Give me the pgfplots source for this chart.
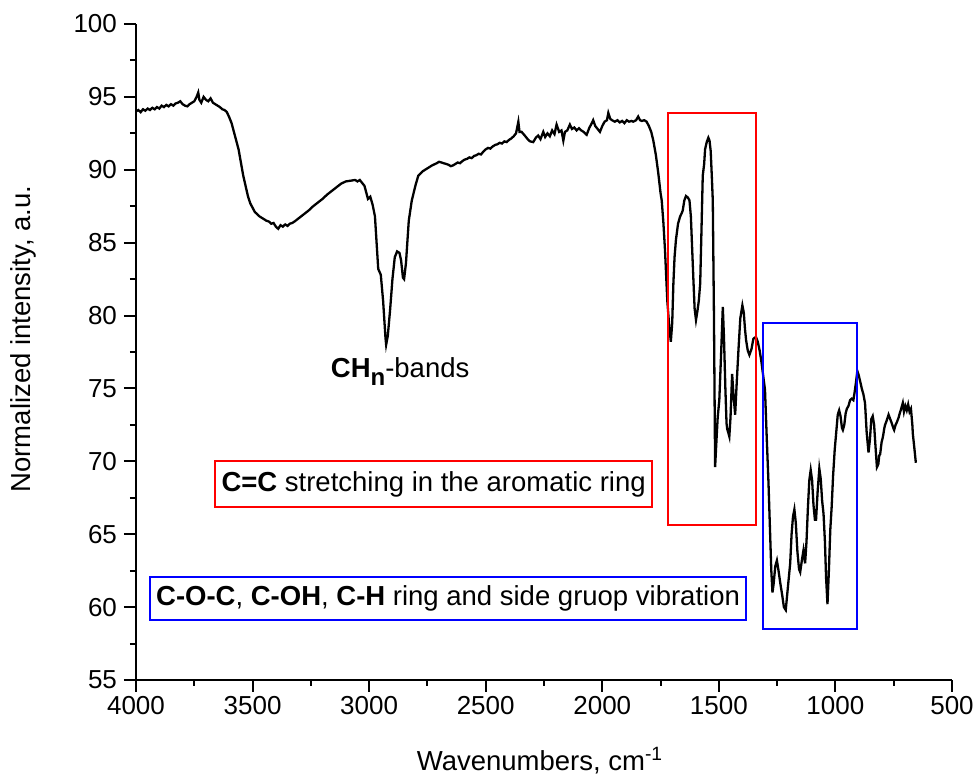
\documentclass[border=0pt]{standalone}
\usepackage{pgfplots}
\pgfplotsset{compat=1.18}
\usepackage{fontspec}
\setmainfont{Liberation Sans}
\begin{document}
\begin{tikzpicture}
\begin{axis}[
  at={(0,0)}, anchor=south west,
  scale only axis, width=408pt, height=328pt,
  xmin=500, xmax=4000, ymin=55, ymax=100,
  x dir=reverse,
  axis lines=left,
  axis line style={-, line width=1pt, black},
  xtick={500,1000,...,4000},
  ytick={55,60,...,100},
  minor x tick num=1, minor y tick num=1,
  tick align=outside,
  major tick length=6pt, minor tick length=3pt,
  tick style={black, line width=1pt},
  /pgf/number format/1000 sep={},
  /pgf/number format/assume math mode=true,
  tick label style={font=\fontsize{13}{15}\selectfont},
  xticklabel style={yshift=1.5pt},
  clip=false,
]
\addplot[black, line width=1.15pt] coordinates {
(4000,94.0)(3990,94.1)(3980,93.95)(3970,94.15)(3960,94.05)(3950,94.2)(3940,94.1)(3930,94.25)(3920,94.15)(3910,94.3)
(3900,94.2)(3890,94.4)(3880,94.3)(3870,94.45)(3860,94.35)(3850,94.5)(3840,94.4)(3830,94.55)(3820,94.6)(3810,94.7)
(3800,94.5)(3790,94.4)(3780,94.35)(3770,94.5)(3760,94.6)(3750,94.7)(3740,95.0)(3733,95.3)(3728,94.8)(3720,94.6)
(3710,95.0)(3700,94.8)(3690,94.7)(3680,94.9)(3670,94.6)(3660,94.5)(3650,94.4)(3640,94.3)(3630,94.15)(3620,94.1)
(3610,93.95)(3600,93.6)(3590,93.2)(3580,92.6)(3570,92.0)(3560,91.4)(3550,90.5)(3540,89.6)(3530,88.9)(3520,88.2)
(3510,87.7)(3500,87.4)(3490,87.1)(3480,86.95)(3470,86.8)(3460,86.7)(3450,86.6)(3440,86.5)(3430,86.45)(3420,86.3)
(3410,86.35)(3400,86.1)(3390,85.95)(3380,86.2)(3370,86.1)(3360,86.25)(3350,86.15)(3340,86.3)(3330,86.35)(3320,86.45)
(3300,86.7)(3280,86.95)(3260,87.2)(3240,87.5)(3220,87.75)(3200,88.0)(3180,88.3)(3160,88.55)(3140,88.8)(3120,89.05)
(3100,89.2)(3080,89.25)(3060,89.3)(3050,89.2)(3040,89.3)(3030,89.1)(3020,88.9)(3010,88.3)(3005,88.0)(2995,88.15)
(2985,87.6)(2975,86.8)(2968,85.0)(2961,83.2)(2950,82.8)(2940,81.0)(2930,78.5)(2927,78.0)(2920,78.6)(2910,80.4)
(2900,82.5)(2890,84.0)(2880,84.4)(2870,84.3)(2863,83.8)(2855,82.6)(2850,82.5)(2842,83.6)(2830,86.5)(2817,87.9)
(2800,89.0)(2789,89.6)(2770,89.9)(2750,90.1)(2730,90.3)(2710,90.45)(2700,90.55)(2690,90.5)(2680,90.45)(2670,90.4)
(2660,90.35)(2650,90.25)(2640,90.3)(2630,90.4)(2620,90.5)(2610,90.45)(2600,90.6)(2590,90.7)(2580,90.75)(2570,90.85)
(2560,90.8)(2550,90.95)(2540,91.0)(2530,91.1)(2520,91.05)(2510,91.25)(2500,91.4)(2490,91.5)(2480,91.45)(2470,91.6)
(2460,91.7)(2450,91.75)(2440,91.85)(2430,91.8)(2420,91.95)(2410,91.9)(2400,92.05)(2390,92.15)(2380,92.3)(2370,92.5)
(2360,93.3)(2355,92.6)(2346,92.6)(2330,92.3)(2320,92.1)(2310,91.95)(2296,91.9)(2285,92.2)(2275,92.35)(2265,92.1)
(2253,92.6)(2245,92.25)(2235,92.5)(2225,92.3)(2215,92.7)(2205,92.45)(2196,93.1)(2185,92.6)(2175,92.7)(2167,92.0)
(2160,92.6)(2150,92.7)(2139,93.1)(2130,92.8)(2120,92.9)(2110,92.7)(2100,92.85)(2090,92.7)(2080,92.6)(2067,92.4)
(2055,92.9)(2048,93.1)(2039,93.4)(2030,93.0)(2020,92.8)(2010,92.6)(2000,93.0)(1990,93.3)(1980,93.4)(1974,93.9)
(1966,93.5)(1958,93.4)(1946,93.3)(1935,93.4)(1925,93.25)(1915,93.35)(1905,93.2)(1895,93.4)(1885,93.3)(1875,93.35)
(1867,93.3)(1855,93.4)(1846,93.65)(1838,93.4)(1830,93.35)(1820,93.4)(1810,93.3)(1800,93.0)(1790,92.6)(1781,92.0)
(1770,91.0)(1760,89.8)(1750,88.4)(1745,87.9)(1738,86.4)(1731,84.5)(1721,81.0)(1713,79.3)(1706,78.2)(1700,79.5)
(1695,82.2)(1690,84.0)(1684,85.2)(1675,86.3)(1666,86.8)(1660,87.0)(1655,87.2)(1648,87.9)(1641,88.2)(1633,88.1)
(1626,87.9)(1620,86.8)(1616,85.2)(1610,82.8)(1604,80.5)(1598,79.7)(1592,80.3)(1586,81.0)(1580,82.2)(1575,85.5)
(1569,89.6)(1563,90.4)(1559,91.4)(1552,91.9)(1545,92.2)(1540,92.0)(1535,91.3)(1530,89.5)(1526,87.9)(1521,80.0)
(1516,69.6)(1510,71.5)(1505,73.0)(1498,74.2)(1490,77.5)(1483,80.6)(1478,78.5)(1472,75.0)(1467,72.6)(1464,72.2)
(1460,72.0)(1455,71.7)(1450,73.0)(1443,76.0)(1437,74.5)(1430,73.2)(1423,75.5)(1416,77.6)(1408,79.8)(1399,80.7)
(1393,80.2)(1388,79.1)(1383,78.3)(1376,77.6)(1369,77.3)(1360,77.7)(1352,78.4)(1345,78.5)(1340,78.5)(1333,78.2)
(1325,77.6)(1318,76.9)(1310,75.9)(1302,74.9)(1295,71.8)(1287,68.5)(1280,65.0)(1275,62.5)(1270,61.0)(1265,61.6)
(1258,62.8)(1251,63.2)(1244,62.5)(1236,61.6)(1228,60.8)(1221,60.0)(1213,59.8)(1206,61.0)(1200,62.0)(1194,63.0)
(1188,65.0)(1182,66.2)(1176,66.7)(1170,65.8)(1163,63.8)(1156,62.6)(1151,62.4)(1144,63.2)(1137,63.9)(1130,63.0)
(1124,64.5)(1118,66.8)(1112,68.7)(1106,69.4)(1100,68.7)(1094,67.0)(1088,66.0)(1083,66.0)(1076,68.0)(1069,69.5)
(1063,68.8)(1057,67.3)(1051,66.4)(1045,64.5)(1040,62.0)(1034,60.2)(1028,62.5)(1022,65.3)(1016,66.9)(1010,69.0)
(1003,70.8)(997,71.9)(990,73.2)(984,73.5)(978,73.1)(972,72.3)(968,72.15)(962,72.5)(956,73.3)(951,73.6)
(944,73.8)(937,74.2)(930,74.3)(923,74.2)(918,74.7)(912,75.4)(906,76.2)(900,75.9)(894,75.5)(887,75.0)
(880,74.6)(873,74.0)(866,72.0)(858,70.6)(852,71.5)(846,72.9)(840,73.1)(834,72.5)(828,71.0)(822,69.6)
(816,69.8)(812,70.4)(808,70.5)(802,71.3)(796,71.7)(790,72.3)(787,72.5)(780,72.8)(772,73.2)(765,72.9)
(758,72.6)(752,72.3)(748,72.15)(742,72.5)(736,72.7)(729,73.0)(724,73.3)(718,73.6)(711,74.0)(706,73.4)
(700,73.8)(694,73.5)(688,73.9)(682,73.4)(676,73.6)(670,72.5)(668,71.9)(662,71.0)(655,69.9)
};
% highlight boxes
\draw[red, line width=1pt] (axis cs:1716,93.92) rectangle (axis cs:1340,65.64);
\draw[blue, line width=1pt] (axis cs:1311,79.47) rectangle (axis cs:906,58.48);
\draw[red, line width=1pt] (axis cs:3661,70.03) rectangle (axis cs:1786,66.87);
\draw[blue, line width=1pt] (axis cs:3940,62.07) rectangle (axis cs:1383,59.12);
\node[font=\fontsize{13.75}{16}\selectfont, anchor=center] at (axis cs:2723.5,68.45) {\textbf{C=C} stretching in the aromatic ring};
\node[font=\fontsize{13.75}{16}\selectfont, anchor=center] at (axis cs:2661.5,60.6) {\textbf{C-O-C}, \textbf{C-OH}, \textbf{C-H} ring and side gruop vibration};
\node[font=\fontsize{13.75}{16}\selectfont, anchor=base] at (axis cs:2867,75.72) {\textbf{CH\raisebox{-4pt}{\fontsize{12}{14}\selectfont n}}-bands};
% axis labels
\node[font=\fontsize{13.75}{16}\selectfont, anchor=base] at (axis description cs:0.5,0) [yshift=-45.5pt, xshift=-2pt] {Wavenumbers, cm\textsuperscript{-1}};
\node[font=\fontsize{13.75}{16}\selectfont, xshift=-52.5pt, yshift=6.5pt, anchor=base, rotate=90] at (axis description cs:0,0.5) {Normalized intensity, a.u.};
\end{axis}
\pgfresetboundingbox
\path (-68pt,-48pt) rectangle (420pt,340pt);
\end{tikzpicture}
\end{document}
